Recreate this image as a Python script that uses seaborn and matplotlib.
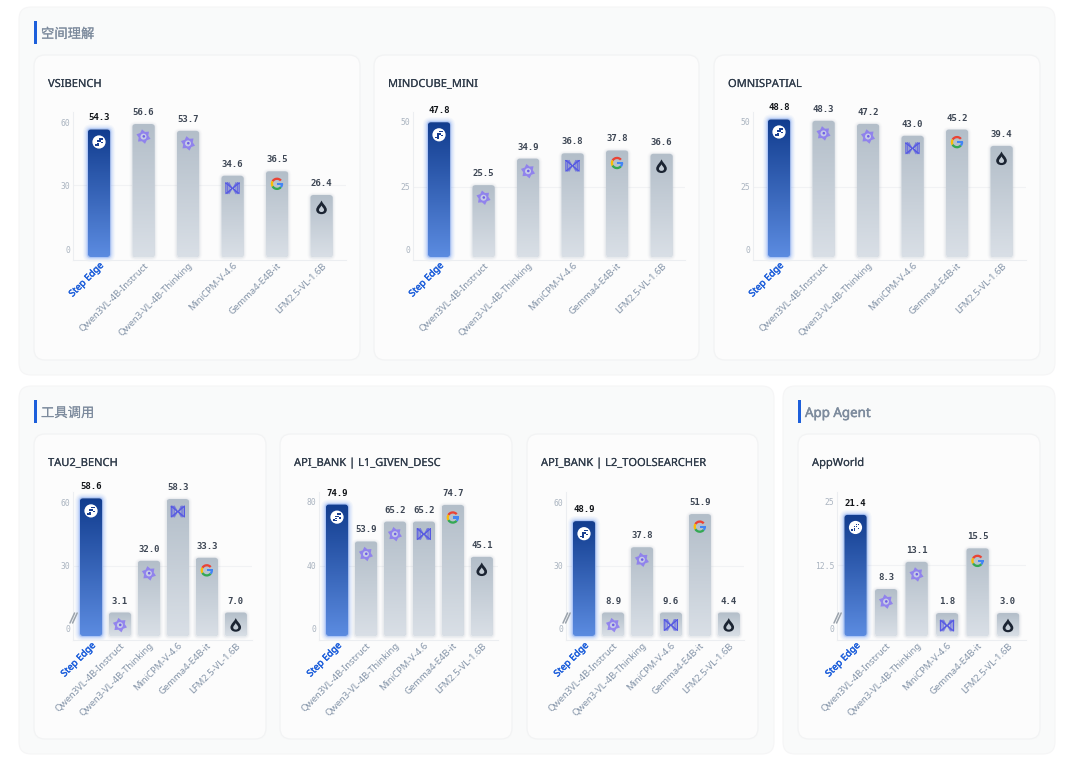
import numpy as np
import pandas as pd
import seaborn as sns
import matplotlib.pyplot as plt
import matplotlib.patheffects as pe
from matplotlib.colors import to_rgb
from matplotlib.patches import FancyBboxPatch, Circle, Wedge, Rectangle, PathPatch
from matplotlib.path import Path
from matplotlib.transforms import ScaledTranslation

# data
MODELS = ["Step Edge", "Qwen3VL-4B-Instruct", "Qwen3-VL-4B-Thinking",
          "MiniCPM-V-4.6", "Gemma4-E4B-it", "LFM2.5-VL-1.6B"]
LOGOS = ["step", "qwen", "qwen", "minicpm", "google", "lfm"]

vsibench = [54.3, 56.6, 53.7, 34.6, 36.5, 26.4]
mindcube = [47.8, 25.5, 34.9, 36.8, 37.8, 36.6]
omnispatial = [48.8, 48.3, 47.2, 43.0, 45.2, 39.4]
tau2 = [58.6, 3.1, 32.0, 58.3, 33.3, 7.0]
api_l1 = [74.9, 53.9, 65.2, 65.2, 74.7, 45.1]
api_l2 = [48.9, 8.9, 37.8, 9.6, 51.9, 4.4]
appworld = [21.4, 8.3, 13.1, 1.8, 15.5, 3.0]

MONO = "DejaVu Sans Mono"
BLUE = "#1d5fdb"

sns.set_theme(style="white")
plt.rcParams["font.family"] = ["Noto Sans", "Noto Sans CJK SC", "DejaVu Sans"]

fig = plt.figure(figsize=(10.8, 7.69), dpi=100, facecolor="white")

# backdrop axes in pixel coordinates, also used as the transform for rounded shapes
bg = fig.add_axes([0, 0, 1, 1], zorder=0)
bg.set_xlim(0, 1080)
bg.set_ylim(769, 0)
bg.axis("off")
px = bg.transData


def heavier(txt, color, w=0.35):
    # the installed Noto Sans has no usable bold/medium weight, so thicken the outline
    txt.set_path_effects([pe.withStroke(linewidth=w, foreground=color)])


def rbox(x0, y0, x1, y1, r, **kw):
    return FancyBboxPatch((x0, y0), x1 - x0, y1 - y0,
                          boxstyle=f"round,pad=0,rounding_size={r}",
                          transform=px, **kw)


def section(x0, y0, x1, y1, title, bold=False):
    bg.add_patch(rbox(x0, y0, x1, y1, 12, fc="#f9fafa", ec="#f5f5f6", lw=0.8))
    bg.add_patch(Rectangle((x0 + 15, y0 + 14), 2.6, 23, fc=BLUE, ec="none"))
    t = bg.text(x0 + 22, y0 + 26, title, fontsize=9.6, color="#7d8b9d", va="center_baseline")
    heavier(t, "#7d8b9d", 0.35 if bold else 0.1)


def logo(ax, kind, cx, cy):
    def add(p):
        p.set_transform(px)
        p.set_clip_on(False)
        p.set_zorder(6)
        ax.add_patch(p)

    if kind == "step":
        add(Circle((cx, cy), 6.6, fc="white", ec="none"))
        for dx, dy, s in [(1.2, -3.2, 1.5), (3.2, -3.2, 1.5), (-0.8, -0.8, 1.5), (1.2, -0.8, 1.5),
                          (-0.8, 1.4, 1.5), (-3.2, 2.8, 1.7), (-0.8, 3.2, 1.5), (3.0, 0.8, 1.2)]:
            add(Rectangle((cx + dx - s / 2, cy + dy - s / 2), s, s, fc="#1a3f8f", ec="none"))
    elif kind == "qwen":
        ang = np.deg2rad(np.arange(0, 360, 30) + 18)
        rad = np.tile([7.4, 4.9], 6)
        verts = np.c_[cx + rad * np.cos(ang), cy + rad * np.sin(ang)]
        add(PathPatch(Path(np.r_[verts, verts[:1]], closed=True), fc="#8a78f2", ec="none", alpha=0.85))
        add(Circle((cx, cy), 3.0, fc="#c6cbe6", ec="none"))
        add(Circle((cx + 0.3, cy - 0.2), 1.3, fc="#6f5fe6", ec="none"))
    elif kind == "minicpm":
        for off, a in [(0, 1.0), (1.6, 0.75), (3.2, 0.6)]:
            for sgn in (-1, 1):
                xs = [cx + sgn * (6.6 - off), cx + sgn * (6.6 - off), cx + sgn * 0.4, cx + sgn * (6.6 - off)]
                ys = [cy - 5.4, cy + 5.4, cy, cy - 5.4]
                ax.plot(xs, ys, color="#5558e3", lw=0.8, alpha=a, transform=px, clip_on=False, zorder=6)
    elif kind == "google":
        r = 6.2
        w = 2.3
        add(Wedge((cx, cy), r, -150, -40, width=w, fc="#ea4335", ec="none"))
        add(Wedge((cx, cy), r, -210, -150, width=w, fc="#fbbc05", ec="none"))
        add(Wedge((cx, cy), r, -320, -210, width=w, fc="#34a853", ec="none"))
        add(Wedge((cx, cy), r, -362, -320, width=w, fc="#4285f4", ec="none"))
        add(Rectangle((cx, cy - 1.1), r, 2.2, fc="#4285f4", ec="none"))
    else:
        codes = [Path.MOVETO] + [Path.CURVE4] * 12 + [Path.CLOSEPOLY]
        shape = np.array([(0, -7), (-1.2, -4), (-5.3, -1), (-5.3, 2.2), (-5.3, 5), (-3, 6.6), (0, 6.6),
                          (3, 6.6), (5.3, 5), (5.3, 2.2), (5.3, -1), (1.2, -4), (0, -7), (0, -7)], float)
        add(PathPatch(Path(shape + [cx, cy], codes), fc="#1b2432", ec="none"))
        inner = shape * 0.48 + [cx, cy + 1.3]
        add(PathPatch(Path(inner, codes), fc="#c3ccd5", ec="none"))


def panel(card, title, scores, ticks, tick_pos, slope, floor=0.0, row=0, spacing=44.5):
    x0, x1 = card
    top_y, zero_y, axis_y, card_y0, card_y1 = ((112, 257, 260, 55, 360) if row == 0
                                              else (492, 636, 640, 434, 739))
    bg.add_patch(rbox(x0, card_y0, x1, card_y1, 11, fc="#fcfcfc", ec="#f2f3f4", lw=0.9))
    t = bg.text(x0 + 14, card_y0 + 28, title, fontsize=8, color="#2f3b4a", va="center_baseline")
    heavier(t, "#2f3b4a", 0.1)

    left, right = x0 + 39, x1 - 14
    first = x0 + 65 if row == 0 else x0 + 57
    if title == "AppWorld":
        first = 855.5
    ax = fig.add_axes([left / 1080, 1 - axis_y / 769, (right - left) / 1080, (axis_y - top_y) / 769], zorder=1)
    ax.patch.set_alpha(0)

    df = pd.DataFrame({"model": MODELS, "shown": np.maximum(scores, floor)})
    sns.barplot(data=df, x="model", y="shown", ax=ax, color="#c3ccd5", width=22.3 / spacing, saturation=1)

    ax.set_xlabel("")
    ax.set_ylabel("")
    ax.set_yticks(tick_pos)
    ax.set_yticklabels(ticks, family=MONO, fontsize=5.8, color="#aab4c0")
    ax.tick_params(axis="y", length=0, pad=2)
    ax.tick_params(axis="x", length=0, pad=3)
    ax.axhline(tick_pos[1], color="#f1f2f4", lw=0.8, zorder=0)
    sns.despine(ax=ax)
    for side in ("left", "bottom"):
        ax.spines[side].set_color("#eceef1")
        ax.spines[side].set_linewidth(0.8)

    shift = ScaledTranslation(3 / 100, 0, fig.dpi_scale_trans)
    ax.set_xticks(range(len(MODELS)))
    ax.set_xticklabels(MODELS)
    for i, lab in enumerate(ax.get_xticklabels()):
        lab.set(rotation=45, ha="right", va="center", rotation_mode="anchor", fontsize=6.8,
                color=BLUE if i == 0 else "#8494a8")
        lab.set_transform(lab.get_transform() + shift)
        if i == 0:
            heavier(lab, BLUE, 0.3)

    ax.set_xlim(-(first - left) / spacing, (right - first) / spacing)
    ax.set_ylim(-(axis_y - zero_y) / slope, (zero_y - top_y) / slope)

    # seaborn's bars give the geometry, the gradient and rounded corners go on top
    for i, bar in enumerate(ax.patches):
        xa, ya = ax.transData.transform((bar.get_x(), bar.get_height()))
        xb, yb = ax.transData.transform((bar.get_x() + bar.get_width(), 0))
        # to top-down pixels
        ya, yb = 769 - ya, 769 - yb
        is_step = i == 0
        shape = rbox(xa, ya, xb, yb, 3.2, fc="none", ec="none")
        ax.add_patch(shape)
        shape.set_clip_on(False)
        bar.set_clip_path(shape)
        bar.set_zorder(2)

        if is_step:
            for pad, al in [(5, 0.05), (3.8, 0.07), (2.6, 0.1), (1.5, 0.18)]:
                ax.add_patch(rbox(xa - pad, ya - pad, xb + pad, yb + pad, 3.2 + pad, fc="#5b8cf0", ec="none",
                                  alpha=al, zorder=1, clip_on=False))
            ax.add_patch(rbox(xa - 0.8, ya - 0.8, xb + 0.8, yb + 0.8, 4, fc="#a9c3f7", ec="none", zorder=1.5,
                              clip_on=False))
            stops = ["#123d8f", "#5b8be0"]
        else:
            for pad, al in [(3, 0.03), (2, 0.05), (1, 0.1)]:
                ax.add_patch(rbox(xa - pad, ya - pad + 0.5, xb + pad, yb + pad + 0.5, 3.2 + pad, fc="#8f9bab",
                                  ec="none", alpha=al, zorder=1, clip_on=False))
            stops = ["#b3bec9", "#d9dfe6"]

        c0, c1 = np.array(to_rgb(stops[0])), np.array(to_rgb(stops[1]))
        t_ = np.linspace(0, 1, 64)[:, None, None]
        grad = c0[None, None, :] * (1 - t_) + c1[None, None, :] * t_
        img = ax.imshow(grad, extent=(bar.get_x(), bar.get_x() + bar.get_width(), 0, bar.get_height()),
                        aspect="auto", origin="upper", zorder=3)
        img.set_clip_path(shape)

        cx = (xa + xb) / 2
        logo(ax, LOGOS[i], cx, ya + 12.6)
        ax.text(cx, ya - 11.5, f"{scores[i]:.1f}", transform=px, ha="center", va="center", family=MONO,
                fontsize=6.5, fontweight="bold", color="#111418" if is_step else "#3d4654", clip_on=False, zorder=7)

    ax.set_xlim(-(first - left) / spacing, (right - first) / spacing)
    ax.set_ylim(-(axis_y - zero_y) / slope, (zero_y - top_y) / slope)

    if floor > 0:
        for off in (0, 2.6):
            ax.plot([left - 3 + off, left + 1.6 + off], [623, 613], color="#9ba3ac", lw=1.1,
                    transform=px, clip_on=False, zorder=7)


section(19, 7, 1055, 375, "空间理解")
section(19, 386, 774, 754, "工具调用")
section(783, 386, 1055, 754, "App Agent", bold=True)

panel((34, 360), "VSIBENCH", vsibench, ["0", "30", "60"], [3, 30.5, 57.4], 2.35)
panel((374, 699), "MINDCUBE_MINI", mindcube, ["0", "25", "50"], [2.5, 25, 47.9], 2.82)
panel((714, 1040), "OMNISPATIAL", omnispatial, ["0", "25", "50"], [2.5, 25, 47.9], 2.82)
panel((34, 266), "TAU2_BENCH", tau2, ["0", "30", "60"], [3, 30, 57], 2.35, floor=10, row=1, spacing=28.95)
panel((280, 512), "API_BANK | L1_GIVEN_DESC", api_l1, ["0", "40", "80"], [4, 40, 76.5], 1.755, row=1, spacing=28.95)
panel((527, 758), "API_BANK | L2_TOOLSEARCHER", api_l2, ["0", "30", "60"], [3, 30, 57], 2.35, floor=10, row=1,
      spacing=28.95)
panel((798, 1040), "AppWorld", appworld, ["0", "12.5", "25"], [1.24, 12.5, 23.7], 5.66, floor=4.06, row=1,
      spacing=30.5)

fig.savefig("out.png", dpi=100, facecolor="white")
